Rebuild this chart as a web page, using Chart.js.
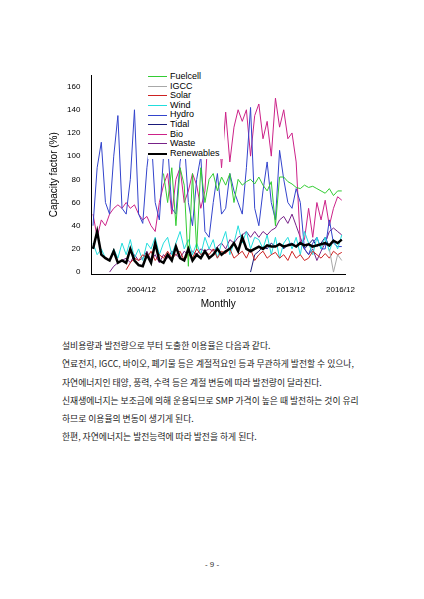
<!DOCTYPE html>
<html><head><meta charset="utf-8">
<script src="https://cdn.jsdelivr.net/npm/chart.js@4"></script>
<style>
body{margin:0;background:#fff;width:424px;height:599px;position:relative;font-family:Arial,"Liberation Sans",sans-serif;}
#wrap{position:absolute;left:30px;top:65px;width:328px;height:245px;}
#legend{position:absolute;left:148px;top:71px;width:76px;background:#fff;font-size:9px;line-height:9.6px;padding:1px 0;}
.li{display:flex;align-items:center;white-space:nowrap;}
.ln{display:inline-block;width:19px;margin-right:3px;}
#text{position:absolute;left:62px;top:337px;font-family:"Noto Sans CJK KR",sans-serif;font-size:8.8px;color:#222;line-height:18.3px;white-space:nowrap;}
#page{position:absolute;top:560px;width:424px;text-align:center;font-size:8px;color:#333;}
</style></head><body>
<div id="wrap"><canvas id="c"></canvas></div>
<div id="legend"></div>
<div id="text">
설비용량과 발전량으로 부터 도출한 이용율은 다음과 같다.<br>
연료전지, IGCC, 바이오, 폐기물 등은 계절적요인 등과 무관하게 발전할 수 있으나,<br>
자연에너지인 태양, 풍력, 수력 등은 계절 변동에 따라 발전량이 달라진다.<br>
신재생에너지는 보조금에 의해 운용되므로 SMP 가격이 높은 때 발전하는 것이 유리<br>
하므로 이용율의 변동이 생기게 된다.<br>
한편, 자연에너지는 발전능력에 따라 발전을 하게 된다.
</div>
<div id="page">- 9 -</div>
<script>
// quarterly samples, 2002 Q1 .. 2017 Q1
const startYear = 2002;
const tickYears = [2004.92, 2007.92, 2010.92, 2013.92, 2016.92];
const tickLabels = ['2004/12', '2007/12', '2010/12', '2013/12', '2016/12'];
const _ = null;

const fuelcell = [_,_,_,_, _,_,_,_, _,_,_,_, _,_,_,_, _,85,60,90, 40,90,75,5, 85,20,90,60, 80,85,70,82, 75,85,60,80, 75,78,80,76, 82,75,70,78, 40,82,82,78, 76,73,72,75, 73,74,72,70, 68,72,66,70, 70];
const igcc = [_,_,_,_, _,_,_,_, _,_,_,_, _,_,_,_, _,_,_,_, _,_,_,_, _,_,_,_, _,_,_,_, _,_,_,_, _,_,_,_, _,_,_,_, _,_,_,_, _,_,_,_, _,_,_,_, _,20,0,15, 10];
const solar = [_,_,_,_, _,_,_,_, 2,8,12,10, 15,12,18,10, 15,12,18,12, 15,18,10,15, 12,20,15,18, 15,20,12,18, 16,20,12,15, 18,12,20,10, 15,18,12,15, 17,12,15,10, 18,12,15,10, 12,18,15,12, 16,12,18,15, 17];
const wind = [25,15,20,12, 10,20,12,25, 15,28,12,20, 10,25,20,30, 15,25,30,15, 25,35,20,28, 15,25,15,30, 20,28,12,25, 35,15,25,40, 25,35,20,30, 28,20,32,15, 30,12,25,30, 20,30,15,35, 25,15,30,20, 30,18,28,20, 32];
const hydro = [40,90,112,60, 50,100,135,55, 50,80,140,50, 42,90,120,60, 45,100,110,55, 50,95,115,60, 40,80,100,35, 30,60,85,50, 55,85,70,60, 50,90,142,55, 40,70,95,60, 45,105,80,60, 55,72,60,20, 15,25,30,20, 20,45,25,22, 22];
const tidal = [_,_,_,_, _,_,_,_, _,_,_,_, _,_,_,_, _,_,_,_, _,_,_,_, _,_,_,_, _,_,_,_, _,_,_,_, _,_,0,15, 18,22,20,25, 22,25,20,24, 25,22,26,20, 24,28,22,25, 30,22,28,25, 28];
const bio = [50,30,45,40, 50,55,58,55, 60,55,58,50, 45,48,40,35, 60,75,85,50, 80,90,60,70, 85,75,55,70, 137,100,138,90, 138,95,125,140, 130,140,100,135, 145,115,130,100, 150,125,140,115, 120,95,25,28, 55,30,60,45, 62,40,55,65, 62];
const waste = [_,_,_,_, 0,5,8,10, 12,8,15,10, 12,18,10,15, 8,15,12,18, 15,12,18,15, 18,15,20,18, 20,18,22,25, 20,28,25,30, 32,35,30,35, 30,35,32,36, 38,45,48,42, 50,40,30,20, 15,20,10,18, 25,35,38,35, 32];
const renewables = [20,35,15,12, 10,18,8,10, 8,20,10,6, 5,15,8,25, 10,8,15,10, 22,12,10,20, 10,15,12,18, 12,15,20,15, 18,20,25,18, 30,20,18,20, 22,20,23,22, 22,24,22,23, 24,22,25,23, 24,22,23,24, 25,23,27,25, 28];

const seriesDefs = [
    { label: 'Fuelcell', data: fuelcell, color: '#33cc33', w: 1 },
    { label: 'IGCC', data: igcc, color: '#a8a8a8', w: 1 },
    { label: 'Solar', data: solar, color: '#cc2222', w: 1 },
    { label: 'Wind', data: wind, color: '#22dddd', w: 1 },
    { label: 'Hydro', data: hydro, color: '#3344cc', w: 1 },
    { label: 'Tidal', data: tidal, color: '#1a1a7a', w: 1 },
    { label: 'Bio', data: bio, color: '#cc2288', w: 1 },
    { label: 'Waste', data: waste, color: '#772288', w: 1 },
    { label: 'Renewables', data: renewables, color: '#000000', w: 2.5 }
];

const toPoints = arr => arr.map((v, i) => ({ x: startYear + i * 0.25, y: v }));

// legend overlay
const legend = document.getElementById('legend');
seriesDefs.forEach(s => {
    const item = document.createElement('div');
    item.className = 'li';
    item.innerHTML = `<span class="ln" style="border-top:${s.w > 1 ? 2.5 : 1.5}px solid ${s.color}"></span>${s.label}`;
    legend.appendChild(item);
});

new Chart(document.getElementById('c'), {
    type: 'line',
    data: {
        datasets: seriesDefs.map(s => ({
            label: s.label,
            data: toPoints(s.data),
            borderColor: s.color,
            borderWidth: s.w,
            pointRadius: 0,
            tension: 0,
            spanGaps: false,
            order: s.label === 'Renewables' ? 0 : 1
        }))
    },
    options: {
        responsive: true,
        maintainAspectRatio: false,
        animation: false,
        layout: { padding: { top: 10, right: 5, left: 14 } },
        plugins: { legend: { display: false }, tooltip: { enabled: false } },
        scales: {
            x: {
                type: 'linear',
                min: 2001.9,
                max: 2017.2,
                grid: { display: false, drawTicks: true },
                border: { color: '#000' },
                afterBuildTicks: axis => { axis.ticks = tickYears.map(v => ({ value: v })); },
                ticks: {
                    color: '#000',
                    font: { size: 8 },
                    maxRotation: 0,
                    callback: (v) => tickLabels[tickYears.indexOf(v)]
                },
                title: { display: true, text: 'Monthly', color: '#000', font: { size: 10 }, padding: 0 }
            },
            y: {
                min: -2,
                max: 170,
                grid: { display: false },
                border: { color: '#000' },
                afterBuildTicks: axis => { axis.ticks = [0,20,40,60,80,100,120,140,160].map(v => ({ value: v })); },
                ticks: { color: '#000', font: { size: 8 } },
                title: { display: true, text: 'Capacity factor (%)', color: '#000', font: { size: 10 } }
            }
        }
    }
});
</script>
</body></html>
